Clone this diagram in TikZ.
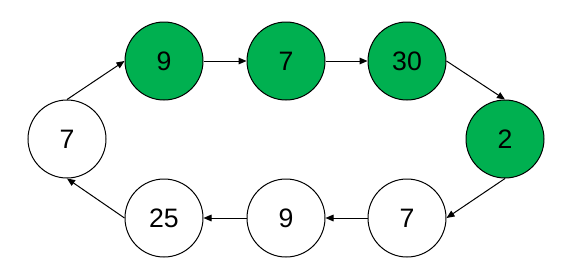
\documentclass[tikz,border=0pt]{standalone}
\usepackage{fontspec}
\setmainfont{Liberation Sans}
\usetikzlibrary{positioning, arrows.meta}
\definecolor{nodegreen}{HTML}{00B050}

\begin{document}
\begin{tikzpicture}[x=0.75pt, y=0.75pt, font=\fontsize{20}{24}\selectfont]
\tikzstyle{elem}=[draw, circle, line width=0.75pt, minimum size=58.5pt, inner sep=0pt, fill=white]
\tikzstyle{done}=[elem, fill=nodegreen]
\tikzstyle{link}=[-{Triangle[length=6pt, width=5pt]}, line width=0.75pt]
\useasboundingbox (0,0) rectangle (575,273);
\node[done] (t9) at (164,212) {9};
\node[done] (t7) at (286,212) {7};
\node[done] (t30) at (407,212) {30};
\node[done] (r2) at (505,134) {2};
\node[elem] (b7) at (407,55) {7};
\node[elem] (b9) at (286,55) {9};
\node[elem] (b25) at (164,55) {25};
\node[elem] (l7) at (67,134) {7};
\draw[link] (t9) -- (t7);
\draw[link] (t7) -- (t30);
\draw[link] (t30.east) -- (r2.north);
\draw[link] (r2.south) -- (b7.east);
\draw[link] (b7) -- (b9);
\draw[link] (b9) -- (b25);
\draw[link] (b25.west) -- (l7.south);
\draw[link] (l7.north) -- (t9.west);
\end{tikzpicture}
\end{document}
